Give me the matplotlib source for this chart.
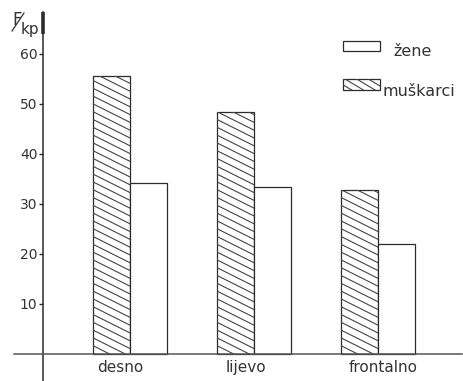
import numpy as np
import matplotlib
matplotlib.use("Agg")
import matplotlib.pyplot as plt
from matplotlib.patches import Rectangle

plt.rcParams["font.family"] = ["DejaVu Sans"]

# values (F in kp)
categories = ["desno", "lijevo", "frontalno"]
muskarci = [55.6, 48.4, 32.8]
zene = [34.2, 33.4, 22.0]
yticks = [10, 20, 30, 40, 50, 60]

ink = "#2b2b2b"
txt = "#333333"

fig = plt.figure(figsize=(4.64, 3.81), dpi=100)
ax = fig.add_axes([14 / 464, 0, 448 / 464, 369 / 381])

# 1 x unit = 124 px, 1 y unit = 5 px
ax.set_xlim(-0.9355, 2.677)
ax.set_ylim(-5.5, 68.3)

for s in ["top", "right"]:
    ax.spines[s].set_visible(False)
ax.spines["left"].set_position(("data", -0.7016))
ax.spines["bottom"].set_position(("data", 0))
ax.spines["left"].set_color(ink)
ax.spines["bottom"].set_color("#555555")
ax.spines["left"].set_linewidth(1.1)
ax.spines["bottom"].set_linewidth(1.1)
# heavier stub at the top of the y axis
ax.plot([-0.7016, -0.7016], [64.0, 68.3], color=ink, lw=2.6, solid_capstyle="butt")

ax.set_yticks(yticks)
ax.set_yticklabels([str(t) for t in yticks], color=txt, fontsize=10)
ax.tick_params(axis="y", direction="out", length=3, width=1, color=ink, pad=1)

x = np.arange(len(categories))
w = 0.298
ax.set_xticks(x + np.array([-0.08, -0.065, 0.04]))
ax.set_xticklabels(categories, color=txt, fontsize=11)
ax.tick_params(axis="x", length=0, pad=5)


def hatched(axis, x0, y0, bw, bh, slope, step, flip=False):
    rect = Rectangle((x0, y0), bw, bh, facecolor="white", edgecolor=ink, lw=0.9, zorder=2)
    axis.add_patch(rect)
    xs = np.array([x0, x0 + bw])
    if not flip:
        cs = np.arange(y0, y0 + bh + slope * bw + step, step)
        for c in cs:
            ln, = axis.plot(xs, c - slope * (xs - x0), color="#444444", lw=0.8, zorder=3)
            ln.set_clip_path(rect)
    else:
        cs = np.arange(y0 - slope * bw, y0 + bh + step, step)
        for c in cs:
            ln, = axis.plot(xs, c + slope * (xs - x0), color="#444444", lw=0.8, zorder=3)
            ln.set_clip_path(rect)
    return rect


for i in range(len(categories)):
    hatched(ax, x[i] - w, 0, w, muskarci[i], 12.4, 1.56)
ax.bar(x + w / 2, zene, width=w, facecolor="white", edgecolor=ink, lw=0.9, zorder=2)

# overlay in pixel units for axis title and legend
ov = fig.add_axes([0, 0, 1, 1])
ov.set_xlim(0, 464)
ov.set_ylim(381, 0)
ov.axis("off")
ov.patch.set_alpha(0)

ov.text(12, 25, "F", fontsize=12, color=txt, ha="left", va="baseline")
ov.plot([12, 24], [31, 13], color=txt, lw=0.9)
ov.text(21, 34, "kp", fontsize=11, color=txt, ha="left", va="baseline")

ov.add_patch(Rectangle((343, 41), 37, 10, facecolor="white", edgecolor=ink, lw=0.9))
ov.text(393, 52, "žene", fontsize=11.5, color=txt, ha="left", va="center")
hatched(ov, 343, 79, 37, 11, 0.6, 7.0, flip=True)
ov.text(383, 91, "muškarci", fontsize=11.5, color=txt, ha="left", va="center")

fig.savefig("out.png", dpi=100)
